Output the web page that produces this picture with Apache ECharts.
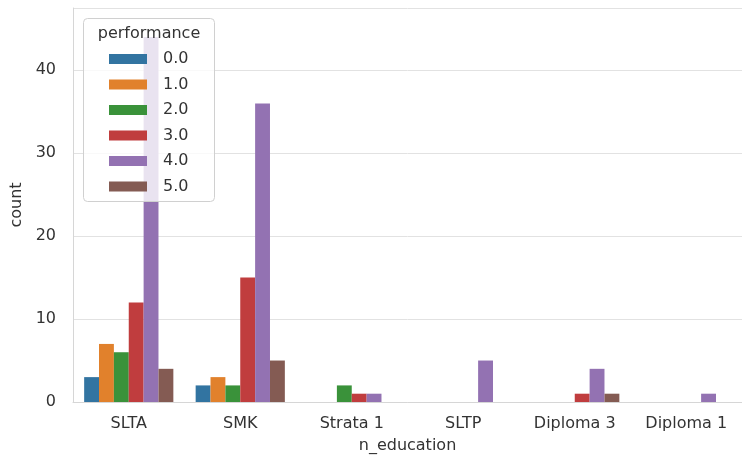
<!DOCTYPE html>
<html>
<head>
<meta charset="utf-8">
<script src="https://cdn.jsdelivr.net/npm/echarts@6/dist/echarts.min.js"></script>
<style>
  html, body { margin: 0; padding: 0; background: #fff; }
  #chart { width: 742px; height: 459px; }
</style>
</head>
<body>
<div id="chart"></div>
<script>
// Education level categories along the x axis
const educationLevels = ['SLTA', 'SMK', 'Strata 1', 'SLTP', 'Diploma 3', 'Diploma 1'];

// Counts per performance score, one array per hue level
const perf00 = [3, 2, 0, 0, 0, 0];
const perf10 = [7, 3, 0, 0, 0, 0];
const perf20 = [6, 2, 2, 0, 0, 0];
const perf30 = [12, 15, 1, 0, 1, 0];
const perf40 = [44, 36, 1, 5, 4, 1];
const perf50 = [4, 5, 0, 0, 1, 0];

const hueNames = ['0.0', '1.0', '2.0', '3.0', '4.0', '5.0'];
const hueCounts = [perf00, perf10, perf20, perf30, perf40, perf50];
const yTicks = [0, 10, 20, 30, 40];

const palette = ['#3274a1', '#e1812c', '#3a923a', '#c03d3e', '#9372b2', '#845b53'];
const FONT = 'DejaVu Sans';
const FS = 16;
const TEXT = '#333333';

const chart = echarts.init(document.getElementById('chart'), null, { renderer: 'canvas' });

chart.setOption({
  animation: false,
  backgroundColor: '#ffffff',
  color: palette,
  grid: { left: 73, right: -7, top: 8, bottom: 55, containLabel: false },
  xAxis: {
    type: 'category',
    data: educationLevels,
    name: 'n_education',
    nameLocation: 'middle',
    nameGap: 36,
    nameTextStyle: { fontFamily: FONT, fontSize: FS, color: TEXT },
    axisLine: { show: true, lineStyle: { color: '#d6d6d6', width: 1 } },
    axisTick: { show: false },
    axisLabel: { fontFamily: FONT, fontSize: FS, color: TEXT, margin: 14 },
    splitLine: { show: false }
  },
  yAxis: {
    type: 'value',
    min: 0,
    max: 47.5,
    interval: 10,
    name: 'count',
    nameLocation: 'middle',
    nameGap: 46,
    nameTextStyle: { fontFamily: FONT, fontSize: FS, color: TEXT },
    axisLine: { show: true, lineStyle: { color: '#d6d6d6', width: 1 } },
    axisTick: { show: false },
    axisLabel: {
      fontFamily: FONT, fontSize: FS, color: TEXT, margin: 17,
      formatter: v => (yTicks.indexOf(v) >= 0 ? String(v) : '')
    },
    splitLine: { show: true, lineStyle: { color: '#e2e2e2', width: 1 } }
  },
  legend: {
    orient: 'vertical',
    left: 109,
    top: 51,
    padding: 0,
    itemWidth: 38,
    itemHeight: 10,
    itemGap: 9.5,
    icon: 'rect',
    z: 120,
    data: hueNames,
    textStyle: { fontFamily: FONT, fontSize: FS, color: TEXT, padding: [0, 0, 0, 11] }
  },
  graphic: [
    {
      type: 'rect',
      z: 100,
      shape: { x: 83.5, y: 18.5, width: 131, height: 183, r: 4 },
      style: { fill: 'rgba(255,255,255,0.8)', stroke: '#d0d0d0', lineWidth: 1 }
    },
    {
      type: 'text',
      z: 110,
      x: 149, y: 34,
      style: {
        text: 'performance', fontFamily: FONT, fontSize: FS, fill: TEXT,
        align: 'center', verticalAlign: 'middle'
      }
    }
  ],
  series: hueNames.map((name, i) => ({
    name: name,
    type: 'bar',
    data: hueCounts[i],
    barGap: '0%',
    barCategoryGap: '20%',
    itemStyle: { color: palette[i] }
  }))
});
</script>
</body>
</html>
